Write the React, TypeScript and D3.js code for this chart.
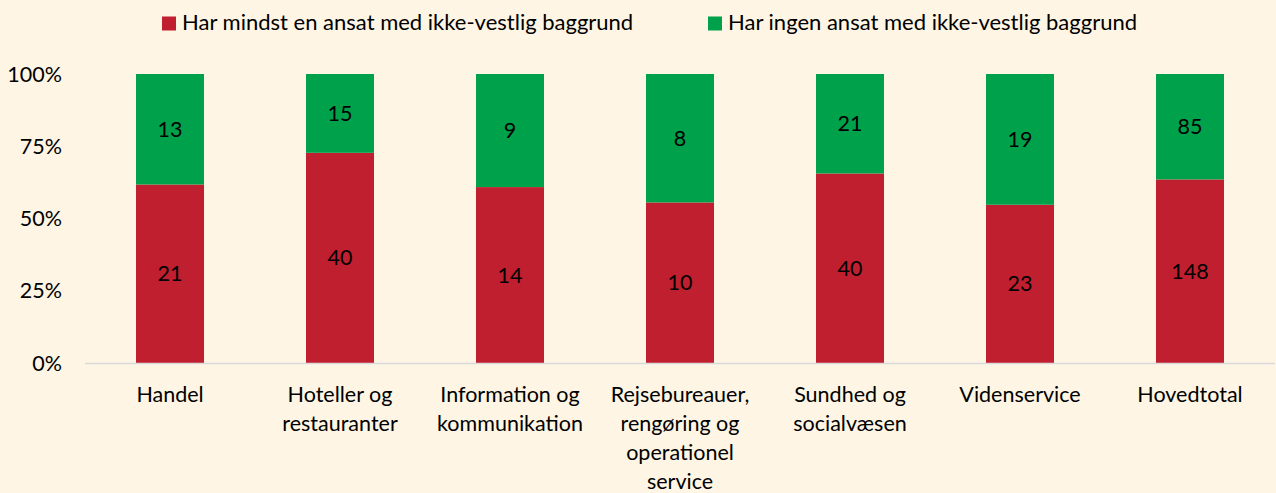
import { useEffect, useRef } from 'react';
import * as d3 from 'd3';

const categories = [
  ['Handel'],
  ['Hoteller og', 'restauranter'],
  ['Information og', 'kommunikation'],
  ['Rejsebureauer,', 'rengøring og', 'operationel', 'service'],
  ['Sundhed og', 'socialvæsen'],
  ['Videnservice'],
  ['Hovedtotal'],
];
const withNonWestern = [21, 40, 14, 10, 40, 23, 148];
const withoutNonWestern = [13, 15, 9, 8, 21, 19, 85];
const seriesNames = [
  'Har mindst en ansat med ikke-vestlig baggrund',
  'Har ingen ansat med ikke-vestlig baggrund',
];
const yTicks = [0, 0.25, 0.5, 0.75, 1];

const colors = ['#C01F2F', '#00A14B'];
const font = 'Lato, "Open Sans", sans-serif';
const fs = 21.5;

export default function App() {
  const svgRef = useRef<SVGSVGElement>(null);

  useEffect(() => {
    if (!svgRef.current) return;
    const svg = d3.select(svgRef.current);
    svg.selectAll('*').remove();

    const W = 1276, H = 493;
    svg.attr('width', W).attr('height', H).style('font-family', font);

    svg.append('rect').attr('width', W).attr('height', H).attr('fill', '#FEF5E4');

    const data = categories.map((c, i) => ({
      key: c.join(' '),
      lines: c,
      a: withNonWestern[i],
      b: withoutNonWestern[i],
    }));

    const x = d3.scaleBand().domain(data.map(d => d.key)).range([85, 1275]).paddingInner(0.6).paddingOuter(0.3);
    const y = d3.scaleLinear().domain([0, 1]).range([363, 74]);

    const stack = d3.stack<any>().keys(['a', 'b']).offset(d3.stackOffsetExpand);
    const series = stack(data as any);

    // y tick labels
    svg.append('g').selectAll('text').data(yTicks).enter().append('text')
      .attr('x', 62).attr('y', d => y(d)).attr('dy', '0.35em')
      .attr('text-anchor', 'end').attr('font-size', fs).attr('fill', '#000')
      .text(d => `${Math.round(d * 100)}%`);

    series.forEach((s, si) => {
      const g = svg.append('g');
      g.selectAll('rect').data(s).enter().append('rect')
        .attr('x', d => x((d.data as any).key)!)
        .attr('width', x.bandwidth())
        .attr('y', d => y(d[1]))
        .attr('height', d => y(d[0]) - y(d[1]))
        .attr('fill', colors[si]);
      g.selectAll('text').data(s).enter().append('text')
        .attr('x', d => x((d.data as any).key)! + x.bandwidth() / 2)
        .attr('y', d => (y(d[0]) + y(d[1])) / 2)
        .attr('dy', '0.35em').attr('text-anchor', 'middle')
        .attr('font-size', fs).attr('fill', '#000')
        .text(d => (si === 0 ? (d.data as any).a : (d.data as any).b));
    });

    // axis line
    svg.append('line').attr('x1', 85).attr('x2', 1275).attr('y1', 363.5).attr('y2', 363.5)
      .attr('stroke', '#D9D9D9').attr('stroke-width', 1.5);

    // category labels
    const cat = svg.append('g').selectAll('text').data(data).enter().append('text')
      .attr('text-anchor', 'middle').attr('font-size', fs).attr('fill', '#000');
    cat.each(function (d) {
      const t = d3.select(this);
      d.lines.forEach((ln, i) => {
        t.append('tspan').attr('x', x(d.key)! + x.bandwidth() / 2).attr('y', 402 + i * 29).text(ln);
      });
    });

    // legend
    const legendX = [162, 708];
    seriesNames.forEach((name, i) => {
      svg.append('rect').attr('x', legendX[i]).attr('y', 16.5).attr('width', 14).attr('height', 14).attr('fill', colors[i]);
      svg.append('text').attr('x', legendX[i] + 20).attr('y', 30).attr('font-size', 22).attr('fill', '#000').text(name);
    });
  }, []);

  return (
    <div style={{ position: 'fixed', left: 0, top: 0, width: 1276, height: 493, overflow: 'hidden' }}>
      <svg ref={svgRef} style={{ display: 'block' }}></svg>
    </div>
  );
}
